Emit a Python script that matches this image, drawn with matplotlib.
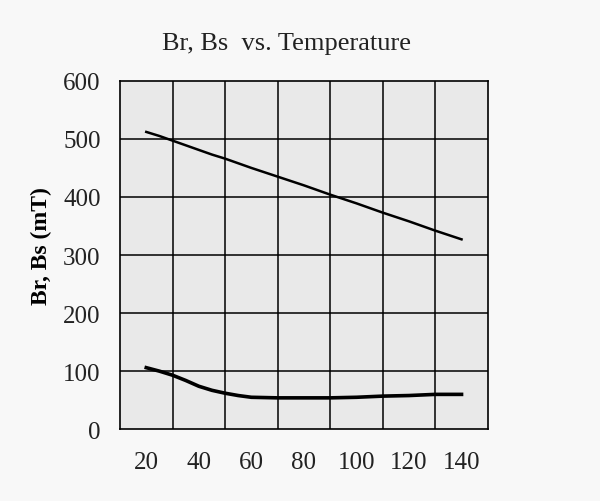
import matplotlib
matplotlib.use("Agg")
import matplotlib.pyplot as plt

temps = [20, 25, 30, 35, 40, 45, 50, 55, 60, 70, 80, 90, 100, 110, 120, 130, 140]
br_top = [512, 505, 497, 489, 481, 473, 466, 458, 450, 435, 420, 404, 389, 373, 358, 342, 327]
bs_bottom = [106, 100, 93, 84, 74, 67, 62, 58, 55, 54, 54, 54, 55, 57, 58, 60, 60]
xticks = [20, 40, 60, 80, 100, 120, 140]
yticks = [0, 100, 200, 300, 400, 500, 600]
grid_x = [30, 50, 70, 90, 110, 130]

plt.rcParams['font.family'] = ['Liberation Serif', 'DejaVu Serif']

fig = plt.figure(figsize=(6.0, 5.02), dpi=100, facecolor='#f8f8f8')
ax = fig.add_axes([0.2, 0.143, 0.613, 0.694])
ax.set_facecolor('#e9e9e9')

ax.plot(temps, br_top, color='black', lw=1.8)
ax.plot(temps, bs_bottom, color='black', lw=2.6)

ax.set_xlim(10, 150)
ax.set_ylim(0, 600)
ax.set_xticks(xticks)
ax.set_yticks(yticks)
for gx in grid_x:
    ax.axvline(gx, color='black', lw=1.1, zorder=0.5)
for gy in yticks[1:-1]:
    ax.axhline(gy, color='black', lw=1.1, zorder=0.5)
for s in ax.spines.values():
    s.set_linewidth(1.2)
    s.set_color('black')

ax.tick_params(axis='x', length=0, pad=16, labelsize=18, colors='#222222')
ax.tick_params(axis='y', length=0, pad=14, labelsize=18, colors='#222222')

ax.set_ylabel('Br, Bs (mT)', fontsize=17, fontweight='bold')
ax.yaxis.set_label_coords(-0.185, 0.53)

fig.text(0.478, 0.913, 'Br, Bs  vs. Temperature', ha='center', va='center', fontsize=19, color='#222222')

fig.savefig('out.png', dpi=100, facecolor=fig.get_facecolor())
